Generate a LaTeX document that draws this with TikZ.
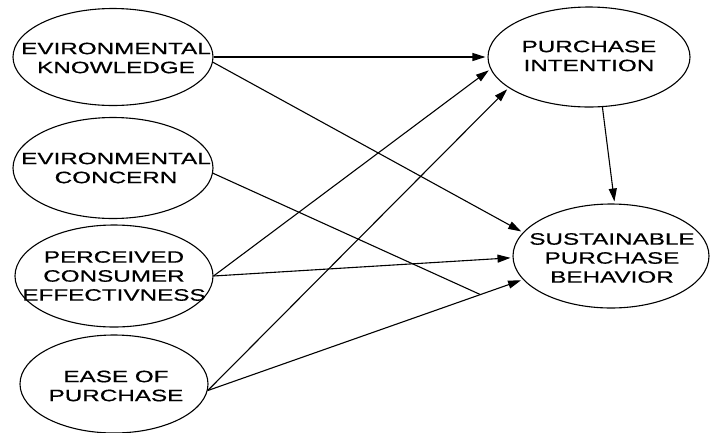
\documentclass[tikz,border=0pt]{standalone}
\usepackage{fontspec}
\setmainfont{Liberation Sans}[FakeStretch=1.47,FakeBold=0.6]
\usetikzlibrary{shapes.geometric,arrows.meta}
\begin{document}
\begin{tikzpicture}[x=1pt,y=-1pt,
  oval/.style={draw,ellipse,line width=1.1pt,inner sep=0pt},
  lbl/.style={align=center,font=\fontsize{16.5}{19}\selectfont,inner sep=0pt},
  conn/.style={line width=1.1pt,shorten >=2pt,-{Triangle[length=13pt,width=8pt]}},
  plain/.style={line width=1.1pt}]
\useasboundingbox (0,0) rectangle (710,432);
% left ellipses
\node[oval,minimum width=200pt,minimum height=97pt] (ek) at (113,57) {};
\node[lbl] at (116,58) {EVIRONMENTAL\\KNOWLEDGE};
\node[oval,minimum width=200pt,minimum height=101pt] (ec) at (113,168) {};
\node[lbl] at (116,168) {EVIRONMENTAL\\CONCERN};
\node[oval,minimum width=198pt,minimum height=102pt] (pce) at (114,276) {};
\node[lbl] at (114,276) {PERCEIVED\\CONSUMER\\EFFECTIVNESS};
\node[oval,minimum width=188pt,minimum height=98pt] (ep) at (114,384) {};
\node[lbl] at (116,386) {EASE OF\\PURCHASE};
% right ellipses
\node[oval,minimum width=202pt,minimum height=100pt] (pi) at (589,57) {};
\node[lbl] at (589,56) {PURCHASE\\INTENTION};
\node[oval,minimum width=196pt,minimum height=104pt] (spb) at (611,256) {};
\node[lbl] at (612,258) {SUSTAINABLE\\PURCHASE\\BEHAVIOR};
% connectors
\draw[conn] (ek.east) -- (pi.west);
\draw[conn] (ek.-3) -- (spb.165);
\draw[conn] (pce.east) -- (pi.187);
\draw[conn] (ep.-4) -- (pi.201);
\draw[conn] (pce.east) -- (spb.181);
\draw[conn] (ep.-4) -- (spb.195) coordinate[pos=0.865] (ecend);
\draw[plain] (ec.-3) -- (ecend);
\draw[conn] (pi.285) -- (spb.86);
\end{tikzpicture}
\end{document}
